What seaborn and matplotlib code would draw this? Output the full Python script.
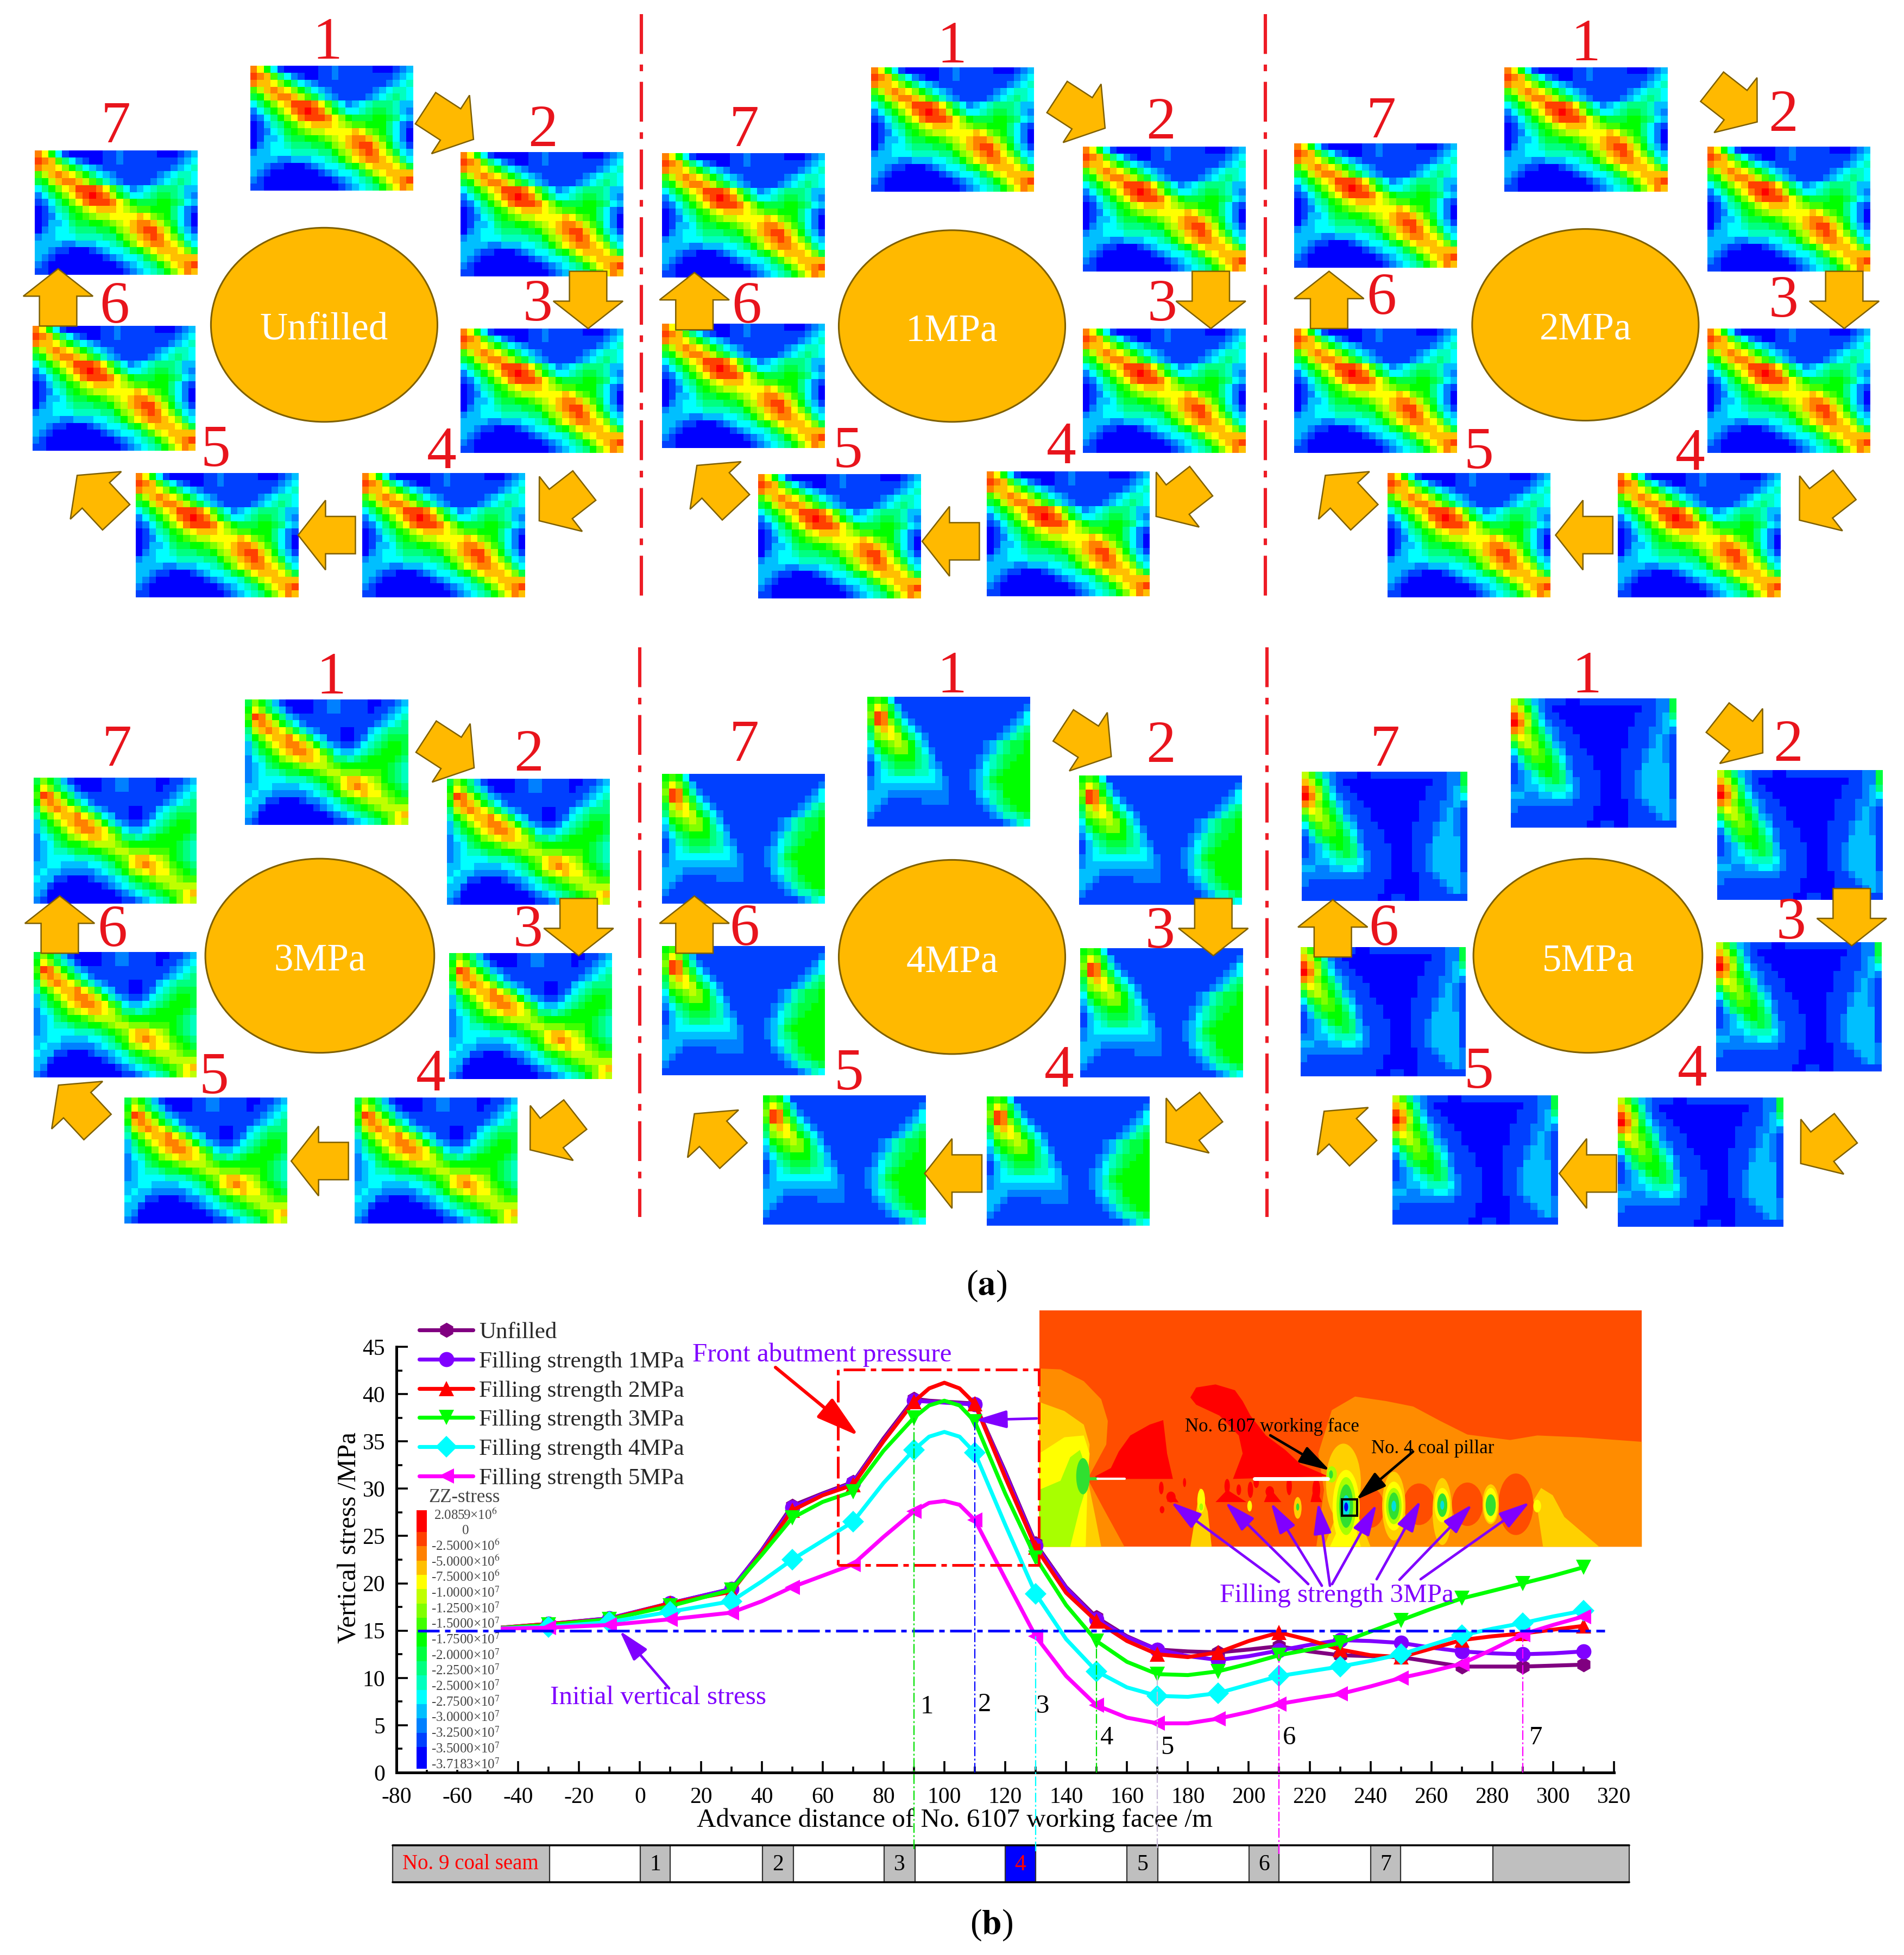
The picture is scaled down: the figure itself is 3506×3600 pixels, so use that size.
import numpy as np
import pandas as pd
import matplotlib
matplotlib.use("Agg")
import matplotlib.pyplot as plt
import seaborn as sns
from matplotlib.colors import ListedColormap
from matplotlib.lines import Line2D
from matplotlib.patches import Ellipse, Polygon, Rectangle

# ---------------------------------------------------------
# Data
# ---------------------------------------------------------
x_curve = [-50, -30, -10, 10, 30, 40, 50, 60, 70, 80, 90, 95, 100, 105, 110, 120, 130, 140, 150, 160,
           170, 180, 190, 200, 210, 220, 230, 240, 250, 260, 270, 280, 290, 300, 310]
unfilled = [15.2, 15.7, 16.3, 17.9, 19.4, 23.5, 28.2, 29.5, 30.7, 35.3, 39.5, 39.3, 39.2, 39.1, 39.0, 31.8, 24.2, 19.6, 16.4, 14.4,
            13.0, 12.8, 12.7, 13.0, 13.35, 12.8, 12.4, 12.3, 12.2, 11.7, 11.2, 11.2, 11.2, 11.3, 11.4]
mpa1 = [15.2, 15.7, 16.3, 17.9, 19.4, 23.4, 28.0, 29.4, 30.6, 35.1, 39.3, 39.2, 39.1, 39.0, 38.9, 31.6, 24.0, 19.5, 16.2, 14.3,
        13.0, 12.3, 11.9, 12.3, 12.9, 13.5, 14.0, 13.9, 13.7, 13.2, 12.8, 12.6, 12.5, 12.6, 12.8]
mpa2 = [15.2, 15.7, 16.2, 17.9, 19.1, 23.2, 27.7, 29.3, 30.4, 35.0, 39.2, 40.6, 41.2, 40.6, 39.0, 31.2, 23.8, 19.0, 16.0, 13.9,
        12.5, 12.2, 12.7, 13.9, 14.8, 14.0, 13.0, 12.4, 12.2, 13.1, 14.0, 14.4, 14.7, 15.1, 15.5]
mpa3 = [15.2, 15.6, 16.2, 17.6, 19.3, 23.0, 26.9, 28.6, 29.7, 34.0, 37.5, 38.8, 39.3, 38.8, 37.1, 29.5, 22.7, 17.7, 13.9, 11.7,
        10.4, 10.3, 10.7, 11.5, 12.4, 13.0, 13.7, 14.9, 16.1, 17.3, 18.4, 19.2, 20.0, 20.8, 21.7]
mpa4 = [15.2, 15.4, 15.9, 17.0, 18.1, 20.2, 22.5, 24.5, 26.5, 30.6, 34.1, 35.5, 36.0, 35.5, 33.8, 26.2, 18.9, 14.1, 10.7, 9.0,
        8.1, 8.0, 8.4, 9.3, 10.2, 10.7, 11.2, 11.8, 12.5, 13.5, 14.5, 15.2, 15.8, 16.5, 17.1]
mpa5 = [15.2, 15.3, 15.6, 16.2, 16.9, 18.1, 19.6, 20.8, 22.0, 24.9, 27.6, 28.5, 28.7, 28.3, 26.7, 20.5, 14.4, 10.2, 7.1, 5.8,
        5.2, 5.2, 5.7, 6.4, 7.25, 7.8, 8.3, 9.1, 10.0, 10.7, 11.5, 13.0, 14.6, 15.6, 16.5]

series_names = ["Unfilled", "Filling strength 1MPa", "Filling strength 2MPa",
                "Filling strength 3MPa", "Filling strength 4MPa", "Filling strength 5MPa"]
series_values = [unfilled, mpa1, mpa2, mpa3, mpa4, mpa5]
series_colors = ["#800080", "#8000ff", "#ff0000", "#00ff00", "#00ffff", "#ff00ff"]
series_markers = ["h", "o", "^", "v", "D", "<"]

guide_x = [90, 110, 130, 150, 170, 210, 290]
guide_top = [37.5, 37.0, 14.4, 13.9, 10.4, 12.5, 14.6]
guide_bottom = [-8.1, 0, -8.3, 0, -8.0, -8.6, 0]
guide_colors = ["#00e000", "#0000ff", "#00ffff", "#00e000", "#c8bcd8", "#ff00ff", "#ff00ff"]

cbar_labels = ["2.0859×10$^{6}$", "0", "-2.5000×10$^{6}$", "-5.0000×10$^{6}$", "-7.5000×10$^{6}$",
               "-1.0000×10$^{7}$", "-1.2500×10$^{7}$", "-1.5000×10$^{7}$", "-1.7500×10$^{7}$",
               "-2.0000×10$^{7}$", "-2.2500×10$^{7}$", "-2.5000×10$^{7}$", "-2.7500×10$^{7}$",
               "-3.0000×10$^{7}$", "-3.2500×10$^{7}$", "-3.5000×10$^{7}$", "-3.7183×10$^{7}$"]
level_colors = ["#0000ff", "#0040ff", "#0080ff", "#00bfff", "#00ffff", "#00ffbf", "#00ff80", "#00ff40", "#00ff00",
                "#40ff00", "#80ff00", "#bfff00", "#ffff00", "#ffbf00", "#ff8000", "#ff4000", "#ff0000"]

# stress level per cell of a slice, base 17 (0 = deep blue, g = red)
grid_unfilled = [
    "ec8410000011211111000123", "fed964210011211111111234", "eddca8643211111111112345",
    "9bdedca86432111111234554", "78bdeedb9753211112345654", "468acdfffec9642345666533",
    "2468acefgfeb864456776532", "12468acefffeca8777887643", "0135689bcdddcba998886421",
    "01245789abbccccdca986420", "01334677889abcdeedb97420", "023445666778abdeffdb8531",
    "2334445555668abdefeca743", "33332233344568acdeedca64", "3321100012344578acdddca7",
    "321000000012344579bcdddd", "2100000000001234568acdef", "11000000000001234568aced"]
grid_3mpa = [
    "7a8631000011221111001123", "8ca753100011221111011234", "9feb86321111111111112345",
    "8dedb8642111111111123456", "6bdedca75321110011345666", "58acddeca743110012456777",
    "368acdeedb85321124567887", "3578acdeedc9743345678887", "24578abcddcb966567888876",
    "23467889abbba98888888765", "23455677889abbaaa9998765", "2344445556789acddcba8765",
    "33443333445689cdedcb9876", "34332222234568abcdcca987", "43311000122345789abbba99",
    "3310000000123456789abbbb", "320000000000123456789acd", "210000000000011234568acb"]
grid_4mpa = [
    "898411111111111111111111", "9ca731111111111111111112", "afe852111111111111111124",
    "9fea74211111111111111234", "7bdc96421111111111112356", "6abcb8642111111111123567",
    "489aba853111111112356778", "3689aa864211111112356778", "246788865311111123567788",
    "135677765321111124567888", "134566655431111234678888", "234444444432111235788888",
    "233333333332111235678888", "333222222222111134568888", "332111112222111123567888",
    "321111111111111112356788", "211111111111111111235567", "111111111111111111112354"]
grid_5mpa = [
    "b96321110011111111111227", "db8521000000000000011227", "fda631100000000000111236",
    "geb742110000000000111234", "eda863211000000001112232", "acb975211100000001112321",
    "7aba86321100000001112321", "479a97531110000011123321", "257998642111000011123321",
    "136788752111000011133331", "123578763111100011233331", "123456763211100011233331",
    "223345554211100011233331", "332233443211100011233331", "222222222111100001123332",
    "211111111111000001112332", "111111111111000001111232", "111111111110011001111111"]

# ---------------------------------------------------------
# Layout of the slices, in the scale of the page at 1530 wide
# ---------------------------------------------------------
W, H = 3506, 3600
S = W / 1530

groups = [
    dict(name="Unfilled", grid=grid_unfilled, size=(131, 100), ellipse=(260.5, 261, 91, 78),
         boxes=[(201, 53), (370, 122), (370, 264), (291, 380), (109, 380), (26, 262), (28, 121)],
         nums=[(263, 33), (436, 103), (432, 243), (355, 362), (173, 360), (92, 245), (93, 100)],
         tips=[(380.5, 112, 33), (472.6, 264, 90), (433.3, 418.5, 142), (239.6, 430, 180), (62, 382, 227), (46.7, 216, 270)]),
    dict(name="1MPa", grid=grid_unfilled, size=(131, 100), ellipse=(765, 262, 91, 77),
         boxes=[(700, 54), (870, 118), (870, 264), (793, 379), (609, 381), (532, 260), (532, 123)],
         nums=[(765, 36), (933, 97), (934, 243), (853, 358), (681, 361), (600, 245), (598, 103)],
         tips=[(888, 103, 33), (973, 264, 90), (929, 415, 142), (741, 435, 180), (560, 374, 227), (558, 219, 270)]),
    dict(name="2MPa", grid=grid_unfilled, size=(131, 100), ellipse=(1274, 261, 91, 77),
         boxes=[(1209, 54), (1372, 118), (1372, 264), (1300, 380), (1115, 380), (1040, 264), (1040, 115)],
         nums=[(1274, 34), (1433, 91), (1433, 240), (1358, 363), (1188, 362), (1110, 238), (1110, 96)],
         tips=[(1412, 98, 38), (1482, 264, 90), (1446, 418, 142), (1250, 430, 180), (1065, 382, 227), (1068, 218, 270)]),
    dict(name="3MPa", grid=grid_3mpa, size=(131, 101), ellipse=(257, 768, 92, 78),
         boxes=[(197, 562), (359, 626), (361, 766), (285, 882), (100, 882), (27, 765), (27, 625)],
         nums=[(266, 543), (425, 605), (424, 746), (346, 862), (172, 864), (90, 746), (94, 601)],
         tips=[(381, 617, 33), (465, 768, 90), (426, 924, 142), (234, 933, 180), (47, 872, 227), (48, 720, 270)]),
    dict(name="4MPa", grid=grid_4mpa, size=(131, 104), ellipse=(765, 769, 91, 78),
         boxes=[(697, 560), (867, 623), (868, 762), (793, 881), (613, 880), (532, 760), (532, 622)],
         nums=[(765, 542), (933, 598), (932, 747), (851, 859), (682, 861), (598, 745), (598, 597)],
         tips=[(893, 608, 33), (975, 768, 90), (937, 918, 142), (743, 943, 180), (558, 895, 227), (558, 720, 270)]),
    dict(name="5MPa", grid=grid_5mpa, size=(133, 104), ellipse=(1276, 768, 92, 78),
         boxes=[(1214, 561), (1380, 619), (1379, 757), (1300, 882), (1119, 880), (1045, 761), (1046, 620)],
         nums=[(1275, 542), (1437, 597), (1439, 740), (1360, 858), (1188, 860), (1112, 745), (1113, 601)],
         tips=[(1416.5, 605, 38), (1488, 760, 90), (1447, 935, 142), (1253, 943, 180), (1064, 893, 227), (1071, 723, 270)]),
]

sns.set_theme(style="ticks")
plt.rcParams["font.family"] = ["Liberation Serif", "DejaVu Serif"]
plt.rcParams["mathtext.fontset"] = "stix"
plt.rcParams["axes.unicode_minus"] = False

level_cmap = ListedColormap(level_colors)
fig = plt.figure(figsize=(W / 100, H / 100), dpi=100, facecolor="white")


def px_axes(x0, y0, x1, y1, zorder):
    a = fig.add_axes([x0 / W, 1 - y1 / H, (x1 - x0) / W, (y1 - y0) / H], zorder=zorder)
    a.patch.set_alpha(0)
    return a


def to_levels(grid):
    return np.array([[int(c, 17) for c in row] for row in grid])


def block_arrow(a, tip_x, tip_y, angle):
    # outline in page units, tip at the origin and pointing along +x
    shape = np.array([(0, 0), (-22, 28), (-22, 15), (-46, 15), (-46, -15), (-22, -15), (-22, -28)], dtype=float)
    t = np.deg2rad(angle)
    rot = np.array([[np.cos(t), -np.sin(t)], [np.sin(t), np.cos(t)]])
    pts = (shape @ rot.T + (tip_x, tip_y)) * S
    a.add_patch(Polygon(pts, closed=True, fc="#ffb900", ec="#7f6000", lw=1.8, zorder=3))


# full page layers in pixel coordinates
back = px_axes(0, 0, W, H, 2)
back.set_xlim(0, W)
back.set_ylim(H, 0)
back.axis("off")
ann = px_axes(0, 0, W, H, 6)
ann.set_xlim(0, W)
ann.set_ylim(H, 0)
ann.axis("off")

# ---------------------------------------------------------
# Panel (a): the six rings of slices
# ---------------------------------------------------------
for g in groups:
    levels = to_levels(g["grid"])
    w, h = g["size"]
    for (bx, by), (nx, ny), num in zip(g["boxes"], g["nums"], range(1, 8)):
        a = px_axes(bx * S, by * S, (bx + w) * S, (by + h) * S, 1)
        sns.heatmap(levels, ax=a, cmap=level_cmap, vmin=-0.5, vmax=16.5, cbar=False,
                    xticklabels=False, yticklabels=False)
        back.text(nx * S, ny * S + 6, str(num), color="#e8141c", fontsize=79, ha="center", va="center", zorder=4)
    for tx, ty, ang in g["tips"]:
        block_arrow(back, tx, ty, ang)
    cx, cy, rx, ry = g["ellipse"]
    back.add_patch(Ellipse((cx * S, cy * S), 2 * rx * S, 2 * ry * S, fc="#ffb900", ec="#7f6000", lw=2.2, zorder=3))
    back.text(cx * S, cy * S + 10, g["name"], color="white", fontsize=51, ha="center", va="center", zorder=4)

for sep_x, y0, y1 in [(1181, 26, 1111), (2330, 26, 1111), (1178, 1192, 2241), (2333, 1192, 2241)]:
    back.plot([sep_x, sep_x], [y0, y1], color="#ee1c25", lw=4.4, linestyle=(0, (12, 3.2, 2, 3.2)),
              solid_capstyle="butt", dash_capstyle="butt")

back.text(1817, 2368, r"($\mathbf{a}$)", fontsize=47, ha="center", va="center", color="black")
back.text(1825, 3545, r"($\mathbf{b}$)", fontsize=47, ha="center", va="center", color="black")

# ---------------------------------------------------------
# Panel (b): contour picture behind the curves
# ---------------------------------------------------------
inset = px_axes(1910, 2410, 3024, 2852, 2.5)
inset.set_xlim(0, 1561)
inset.set_ylim(1326, 0)
inset.axis("off")
C_BG, C_OR, C_YO, C_YE, C_LI, C_GR, C_RE = "#ff4d00", "#ff8c00", "#ffd000", "#ffff00", "#a8ff00", "#30e030", "#ff0000"
inset.add_patch(Rectangle((5, 10), 1555, 1305, fc=C_BG, ec="none", zorder=1))
inset_polys = [
    (C_OR, [(725, 800), (760, 560), (820, 485), (900, 510), (970, 540), (1040, 620), (1110, 695), (1220, 725),
            (1290, 700), (1400, 710), (1560, 735), (1560, 1315), (720, 1315), (740, 1000)]),
    (C_OR, [(5, 330), (60, 335), (120, 400), (165, 500), (182, 620), (178, 750), (130, 940), (170, 1100), (225, 1315), (5, 1315)]),
    (C_YO, [(5, 515), (70, 565), (120, 640), (135, 750), (130, 940), (150, 1150), (165, 1315), (5, 1315)]),
    (C_YE, [(5, 800), (70, 710), (120, 700), (135, 800), (130, 940), (125, 1315), (5, 1315)]),
    (C_LI, [(5, 1000), (60, 950), (85, 820), (110, 780), (135, 930), (110, 1100), (85, 1315), (5, 1315)]),
    (C_RE, [(150, 925), (190, 880), (210, 790), (240, 700), (290, 640), (325, 615), (335, 800), (350, 940), (150, 940)]),
    (C_RE, [(395, 490), (410, 435), (460, 418), (510, 450), (530, 510), (550, 590), (590, 700), (640, 780), (680, 860),
            (750, 925), (505, 940), (530, 800), (520, 700), (470, 590), (410, 530)]),
    (C_RE, [(335, 1065), (345, 1010), (365, 1070)]),
    (C_RE, [(460, 1068), (490, 1000), (540, 1068)]),
    (C_RE, [(585, 1068), (600, 990), (630, 1068)]),
    (C_RE, [(705, 1068), (715, 980), (735, 1068)]),
    (C_YO, [(395, 1315), (410, 1120), (420, 990), (440, 1120), (450, 1315)]),
    (C_YO, [(740, 1315), (770, 1150), (830, 1150), (860, 1315)]),
    (C_YE, [(755, 1315), (780, 1200), (820, 1200), (835, 1315)]),
    (C_YO, [(1280, 1060), (1300, 990), (1330, 1030), (1360, 1150), (1450, 1315), (1305, 1315), (1290, 1100)]),
]
for color, pts in inset_polys:
    inset.add_patch(Polygon(pts, closed=True, fc=color, ec="none", zorder=2))
inset_ellipses = [
    (118, 925, 35, 200, C_GR),
    (320, 990, 12, 70, C_RE), (322, 1110, 12, 40, C_RE), (380, 960, 8, 50, C_RE), (490, 980, 14, 80, C_RE),
    (520, 1000, 12, 60, C_RE), (550, 1000, 14, 90, C_RE), (565, 960, 14, 60, C_RE), (650, 980, 14, 100, C_RE),
    (720, 1000, 20, 120, C_RE), (600, 1010, 22, 60, C_RE), (345, 1040, 24, 60, C_RE),
    (860, 1100, 70, 220, C_BG), (985, 1080, 80, 230, C_BG), (1110, 1080, 80, 240, C_BG), (1235, 1080, 90, 340, C_BG),
    (790, 960, 90, 430, C_YO), (797, 1100, 70, 420, C_YE), (797, 1090, 50, 320, C_LI), (797, 1090, 36, 240, C_GR),
    (797, 1090, 20, 120, "#00e0e0"), (797, 1095, 10, 50, "#0000ff"),
    (760, 915, 26, 90, C_LI), (758, 915, 10, 45, C_GR),
    (920, 1090, 60, 380, C_YO), (920, 1090, 50, 270, C_YE), (920, 1090, 40, 200, C_LI), (920, 1090, 28, 150, C_GR),
    (920, 1090, 12, 60, "#00e0e0"),
    (1045, 1120, 50, 370, C_YO), (1045, 1085, 40, 190, C_YE), (1045, 1085, 26, 130, C_GR), (1045, 1085, 10, 50, "#00e0e0"),
    (1170, 1080, 42, 220, C_YO), (1170, 1085, 35, 190, C_YE), (1170, 1085, 26, 120, C_GR),
    (1290, 1090, 20, 70, C_YE),
    (423, 1060, 20, 130, C_YE), (423, 1095, 10, 40, C_LI), (548, 1090, 12, 60, C_YE), (672, 1100, 20, 120, C_YO),
    (672, 1095, 8, 40, C_GR),
]
for ex, ey, ew, eh, color in inset_ellipses:
    inset.add_patch(Ellipse((ex, ey), ew, eh, fc=color, ec="none", zorder=3))
for x0, x1, lw in [(130, 155, 4), (155, 225, 3), (560, 750, 5)]:
    inset.plot([x0, x1], [938, 938], color="#30e030" if x0 == 130 else "white", lw=lw, zorder=4)

# ---------------------------------------------------------
# Panel (b): the curves
# ---------------------------------------------------------
ax = px_axes(730, 2480, 2972, 3264, 3)
df = pd.DataFrame({
    "x": np.tile(x_curve, len(series_names)),
    "stress": np.concatenate(series_values),
    "series": np.repeat(series_names, len(x_curve)),
})
mark_at = [i for i, v in enumerate(x_curve) if v % 20 == 10 and v > -50]
sns.lineplot(data=df, x="x", y="stress", hue="series", style="series", hue_order=series_names,
             style_order=series_names, palette=dict(zip(series_names, series_colors)),
             markers=dict(zip(series_names, series_markers)), dashes=False, estimator=None,
             markevery=mark_at, markersize=20, markeredgewidth=0, linewidth=5.2, legend=False,
             ax=ax, zorder=2.2)
ax.set_xlim(-80, 320)
ax.set_ylim(0, 45)
ax.set_xticks(np.arange(-80, 321, 20))
ax.set_xticks(np.arange(-70, 320, 20), minor=True)
ax.set_yticks(np.arange(0, 46, 5))
ax.set_yticks(np.arange(2.5, 45, 5), minor=True)
ax.tick_params(which="major", direction="in", length=15, width=2.6, labelsize=30, color="black", labelcolor="black")
ax.tick_params(which="minor", direction="in", length=8, width=2.6, color="black")
ax.tick_params(axis="x", which="major", pad=19)
ax.tick_params(axis="y", which="major", pad=15)
ax.set_xlabel("")
ax.set_ylabel("")
sns.despine(ax=ax)
for side in ["left", "bottom"]:
    ax.spines[side].set_linewidth(3.6)
    ax.spines[side].set_color("black")
# the contour scale sits on a white block that hides the start of the curves
ax.add_patch(Rectangle((-76, 0.3), 30.3, 29.5, fc="white", ec="none", zorder=2.4))

back.text(643, 2832, "Vertical stress /MPa", fontsize=35, rotation=90, ha="center", va="center", color="black")
back.text(1758, 3352, "Advance distance of No. 6107 working facee /m", fontsize=35.3, ha="center", va="center", color="black")

# contour scale
cbar_rows = np.repeat(np.arange(16, -1, -1), [3] + [2] * 15 + [3]).reshape(-1, 1)
cax = px_axes(767, 2781, 786, 3257, 3.5)
sns.heatmap(cbar_rows, ax=cax, cmap=level_cmap, vmin=-0.5, vmax=16.5, cbar=False, xticklabels=False, yticklabels=False)
ann.text(855, 2757, "ZZ-stress", fontsize=25, color="#444444", ha="center", va="center")
for label, ly in zip(cbar_labels, np.linspace(2790, 3249, len(cbar_labels))):
    ann.text(857, ly, label, fontsize=18, color="#444444", ha="center", va="center")

# guide lines over the curves, same scales as the chart
top = px_axes(730, 2480, 2972, 3264, 4)
top.set_xlim(ax.get_xlim())
top.set_ylim(ax.get_ylim())
top.axis("off")
top.plot([-73, 317], [15, 15], color="#0000ff", lw=3.6, linestyle=(0, (8, 2, 2, 2)), clip_on=False)
for gx, gt, gb, gc in zip(guide_x, guide_top, guide_bottom, guide_colors):
    top.plot([gx, gx], [gb, gt], color=gc, lw=1.6, linestyle=(0, (8, 2, 1.5, 2)), clip_on=False)
top.add_patch(Rectangle((65, 21.9), 66, 20.7, fc="none", ec="#ff0000", lw=3.6, linestyle=(0, (8, 2, 2, 2)), clip_on=False))

handles = [Line2D([], [], color=c, marker=m, lw=5.2, ms=20, mew=0) for c, m in zip(series_colors, series_markers)]
ann.legend(handles, series_names, loc="upper left", bbox_to_anchor=(772, 2434), bbox_transform=ann.transData,
           frameon=False, fontsize=31, labelspacing=0.34, handlelength=2.3, handletextpad=0.26, borderpad=0, borderaxespad=0)

# ---------------------------------------------------------
# Annotations
# ---------------------------------------------------------
PURPLE = "#8000ff"
ann.text(1514, 2495, "Front abutment pressure", color=PURPLE, fontsize=35.4, ha="center", va="center")
ann.text(1212, 3126, "Initial vertical stress", color=PURPLE, fontsize=35.4, ha="center", va="center")
ann.text(2461, 2938, "Filling strength 3MPa", color=PURPLE, fontsize=35.4, ha="center", va="center")
ann.text(2342, 2627, "No. 6107 working face", color="black", fontsize=25, ha="center", va="center")
ann.text(2638, 2667, "No. 4 coal pillar", color="black", fontsize=25, ha="center", va="center")
ann.add_patch(Rectangle((2471, 2761), 28, 30, fc="none", ec="black", lw=3))


def arrow(start, end, color, lw=3.4, scale=50):
    ann.annotate("", xy=end, xytext=start,
                 arrowprops=dict(arrowstyle="-|>,head_length=0.7,head_width=0.2", color=color, lw=lw,
                                 mutation_scale=scale, shrinkA=0, shrinkB=0))


arrow((1428, 2518), (1581, 2644), "#ff0000", lw=4.4, scale=70)
arrow((1232, 3109), (1141, 3003), PURPLE)
arrow((1909, 2612), (1796, 2615), PURPLE)
arrow((2339, 2643), (2449, 2708), "black", scale=50)
arrow((2602, 2673), (2497, 2762), "black", scale=50)
fill_arrows = [((2355, 2913), (2156, 2766)), ((2409, 2917), (2256, 2766)), ((2434, 2920), (2340, 2767)),
               ((2449, 2920), (2427, 2767)), ((2453, 2917), (2535, 2770)), ((2535, 2908), (2616, 2763)),
               ((2577, 2909), (2711, 2770)), ((2616, 2908), (2817, 2766))]
for s, e in fill_arrows:
    arrow(s, e, PURPLE)

for num, nx, ny in [(1, 1707, 3143), (2, 1813, 3139), (3, 1920, 3142), (4, 2038, 3200), (5, 2149, 3218), (6, 2374, 3200), (7, 2828, 3200)]:
    ann.text(nx, ny, str(num), fontsize=35, color="black", ha="center", va="center")

# strip of coal pillars under the chart
back.add_patch(Rectangle((723, 3398), 2277, 68, fc="white", ec="none", zorder=1))
pillars = [(1179, 1234, "1"), (1404, 1461, "2"), (1628, 1685, "3"), (1851, 1907, "4"), (2075, 2132, "5"), (2300, 2355, "6"), (2524, 2579, "7")]
back.add_patch(Rectangle((723, 3398), 289, 68, fc="#bfbfbf", ec="#333333", lw=1.6, zorder=2))
back.add_patch(Rectangle((2749, 3398), 251, 68, fc="#bfbfbf", ec="#333333", lw=1.6, zorder=2))
for x0, x1, label in pillars:
    is_blue = label == "4"
    back.add_patch(Rectangle((x0, 3398), x1 - x0, 68, fc="#0000ff" if is_blue else "#bfbfbf", ec="#333333", lw=1.6, zorder=2))
    back.text((x0 + x1) / 2, 3434, label, fontsize=30, color="#ff0000" if is_blue else "black", ha="center", va="center", zorder=3)
back.plot([723, 3000], [3398, 3398], color="black", lw=2.6, zorder=3)
back.plot([723, 3000], [3466, 3466], color="black", lw=2.6, zorder=3)
back.text(866, 3433, "No. 9 coal seam", fontsize=28, color="#ff0000", ha="center", va="center", zorder=3)

fig.savefig("out.png", dpi=100, facecolor="white")
